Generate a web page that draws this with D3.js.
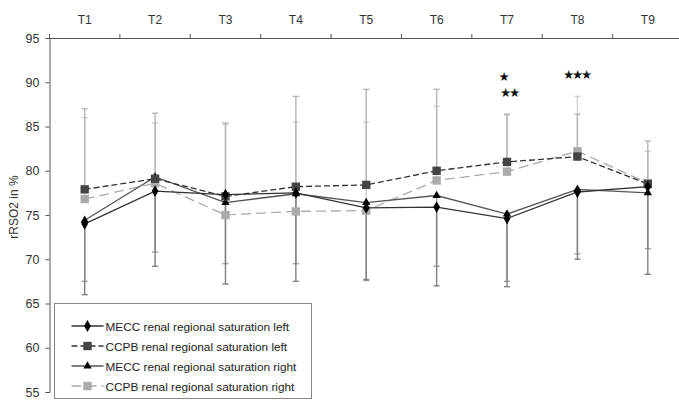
<!DOCTYPE html>
<html>
<head>
<meta charset="utf-8">
<script src="https://cdn.jsdelivr.net/npm/d3@7"></script>
<style>
  body { margin: 0; background: #fff; }
  svg { font-family: Arial, "Liberation Sans", sans-serif; }
</style>
</head>
<body>
<svg id="chart" width="679" height="400"></svg>
<script>
// time points
const categories = ["T1", "T2", "T3", "T4", "T5", "T6", "T7", "T8", "T9"];
const yTicks = [55, 60, 65, 70, 75, 80, 85, 90, 95];

// means (rRSO2 %)
const meccLeft = [74.0, 77.7, 77.3, 77.5, 75.8, 75.9, 74.6, 77.6, 78.2];
const ccpbLeft = [77.9, 79.1, 77.1, 78.2, 78.4, 80.0, 81.0, 81.6, 78.5];
const meccRight = [74.4, 79.3, 76.4, 77.4, 76.4, 77.2, 75.1, 77.9, 77.5];
const ccpbRight = [76.8, 78.6, 75.0, 75.4, 75.5, 78.9, 79.9, 82.2, 78.6];

// standard deviations
const meccLeftSd = [8.0, 8.5, 10.1, 10.0, 8.1, 8.9, 7.7, 7.6, 9.9];
const ccpbLeftSd = [9.1, 7.4, 8.3, 10.2, 10.8, 9.2, 5.4, 4.8, 4.85];
const meccRightSd = [6.9, 8.5, 6.9, 7.9, 8.8, 8.0, 7.6, 7.3, 6.3];
const ccpbRightSd = [9.2, 6.8, 10.2, 10.1, 10.0, 8.4, 6.4, 6.2, 3.6];

// significance marks
const marks = [
  { t: "T7", text: "★", level: 90.6, dx: -4 },
  { t: "T7", text: "★★", level: 88.8, dx: 2 },
  { t: "T8", text: "★★★", level: 90.9, dx: -1 }
];

const series = [
  { name: "MECC renal regional saturation left", values: meccLeft, sd: meccLeftSd, dir: -1,
    line: "#333", dash: null, marker: "diamond", fill: "#000", bar: "#808080" },
  { name: "CCPB renal regional saturation left", values: ccpbLeft, sd: ccpbLeftSd, dir: 1,
    line: "#333", dash: "6,3", marker: "square", fill: "#444", bar: "#b4b4b4" },
  { name: "MECC renal regional saturation right", values: meccRight, sd: meccRightSd, dir: -1,
    line: "#555", dash: null, marker: "triangle", fill: "#000", bar: "#a0a0a0" },
  { name: "CCPB renal regional saturation right", values: ccpbRight, sd: ccpbRightSd, dir: 1,
    line: "#aaa", dash: "10,5", marker: "square", fill: "#aaa", bar: "#cfcfcf" }
];

const svg = d3.select("#chart");

const x = d3.scaleBand().domain(categories).range([49.5, 683]);
const y = d3.scaleLinear().domain([55, 95]).range([392, 38]);
const cx = (t) => x(t) + x.bandwidth() / 2;

const symbolFor = (m) => {
  if (m === "diamond") return d3.symbol().type(d3.symbolDiamond).size(40);
  if (m === "triangle") return d3.symbol().type(d3.symbolTriangle).size(30);
  return d3.symbol().type(d3.symbolSquare).size(70);
};

// error bars (drawn first, behind lines)
series.slice().reverse().forEach((s) => {
  const g = svg.append("g");
  categories.forEach((t, i) => {
    const y0 = y(s.values[i]);
    const y1 = y(s.values[i] + s.dir * s.sd[i]);
    g.append("line")
      .attr("x1", cx(t)).attr("x2", cx(t))
      .attr("y1", y0).attr("y2", y1)
      .attr("stroke", s.bar).attr("stroke-width", 1.4);
    g.append("line")
      .attr("x1", cx(t) - 3).attr("x2", cx(t) + 3)
      .attr("y1", y1).attr("y2", y1)
      .attr("stroke", s.bar).attr("stroke-width", 1.4);
  });
});

// y axis
const yAxis = svg.append("g")
  .attr("transform", "translate(49.5,0)")
  .call(d3.axisLeft(y).tickValues(yTicks).tickSize(4).tickPadding(6));
yAxis.select(".domain").attr("stroke", "#555");
yAxis.selectAll(".tick line").attr("stroke", "#555");
yAxis.selectAll("text").attr("font-size", 12.5).attr("fill", "#333")
  .attr("font-family", "Arial, 'Liberation Sans', sans-serif");

// top axis
const xAxis = svg.append("g")
  .attr("transform", "translate(0,38)")
  .call(d3.axisTop(x).tickSize(0).tickPadding(14));
xAxis.select(".domain").attr("stroke", "#555");
xAxis.selectAll("text").attr("font-size", 12).attr("fill", "#333")
  .attr("font-family", "Arial, 'Liberation Sans', sans-serif");
svg.append("g").selectAll("line")
  .data(categories)
  .join("line")
  .attr("x1", (d) => x(d)).attr("x2", (d) => x(d))
  .attr("y1", 38).attr("y2", 34)
  .attr("stroke", "#555");

// axis title
svg.append("text")
  .attr("transform", "translate(18,207) rotate(-90)")
  .attr("text-anchor", "middle")
  .attr("font-size", 12)
  .attr("fill", "#333")
  .text("rRSO2 in %");

// lines + markers
const line = d3.line().x((d, i) => cx(categories[i])).y((d) => y(d));
series.slice().reverse().forEach((s) => {
  svg.append("path")
    .attr("d", line(s.values))
    .attr("fill", "none")
    .attr("stroke", s.line)
    .attr("stroke-width", 1.3)
    .attr("stroke-dasharray", s.dash);
  svg.append("g").selectAll("path")
    .data(s.values)
    .join("path")
    .attr("transform", (d, i) => `translate(${cx(categories[i])},${y(d)})`)
    .attr("d", symbolFor(s.marker)())
    .attr("fill", s.fill);
});

// significance marks
svg.append("g").selectAll("text")
  .data(marks)
  .join("text")
  .attr("x", (d) => cx(d.t) + d.dx)
  .attr("y", (d) => y(d.level))
  .attr("dy", "0.35em")
  .attr("text-anchor", "middle")
  .attr("font-family", "'DejaVu Sans', sans-serif")
  .attr("font-size", 12.5)
  .attr("letter-spacing", -2.2)
  .attr("fill", "#111")
  .text((d) => d.text);

// legend
const legend = svg.append("g").attr("transform", "translate(54.5,303.5)");
legend.append("rect")
  .attr("width", 257).attr("height", 95)
  .attr("fill", "#fff").attr("stroke", "#888");
series.forEach((s, i) => {
  const ly = 22.5 + i * 20;
  legend.append("line")
    .attr("x1", 17).attr("x2", 49)
    .attr("y1", ly).attr("y2", ly)
    .attr("stroke", s.line).attr("stroke-width", 1.3)
    .attr("stroke-dasharray", s.dash);
  legend.append("path")
    .attr("transform", `translate(33,${ly})`)
    .attr("d", symbolFor(s.marker)())
    .attr("fill", s.fill);
  legend.append("text")
    .attr("x", 51).attr("y", ly + 4.5)
    .attr("font-size", 11.8)
    .attr("fill", "#222")
    .text(s.name);
});
</script>
</body>
</html>
